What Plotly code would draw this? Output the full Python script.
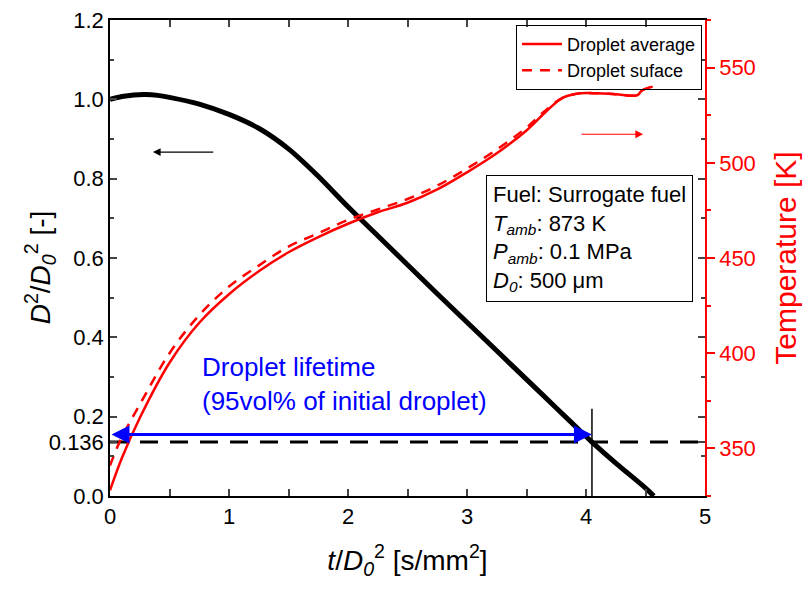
import plotly.graph_objects as go

# Normalised squared diameter D^2/D0^2 against normalised time t/D0^2
t_d = [0.0, 0.1, 0.2, 0.3, 0.4, 0.5, 0.75, 1.0, 1.25, 1.5, 1.75, 2.0, 2.25, 2.5,
       2.75, 3.0, 3.25, 3.5, 3.75, 4.0, 4.05, 4.25, 4.5, 4.57]
d2 = [1.000, 1.007, 1.011, 1.012, 1.010, 1.005, 0.988, 0.962, 0.927, 0.875, 0.806, 0.729,
      0.656, 0.583, 0.510, 0.438, 0.366, 0.294, 0.222, 0.150, 0.136, 0.083, 0.020, 0.0]

# Droplet average temperature [K]
t_avg = [0.0, 0.1, 0.25, 0.5, 0.75, 1.0, 1.25, 1.5, 1.75, 2.0, 2.25, 2.5, 2.75, 3.0,
         3.25, 3.5, 3.65, 3.8, 3.95, 4.1, 4.25, 4.43, 4.47, 4.56]
T_avg = [328, 345, 366, 395, 416, 431, 443, 453, 461, 468, 474, 479, 486, 495,
         505, 517, 526, 534, 536.5, 536.5, 536, 535.5, 538, 540]

# Droplet surface temperature [K]
t_srf = [0.0, 0.05, 0.1, 0.25, 0.5, 0.75, 1.0, 1.25, 1.5, 1.75, 2.0, 2.25, 2.5, 2.75, 3.0,
         3.25, 3.5, 3.65, 3.8, 3.95, 4.1, 4.25, 4.43, 4.47, 4.56]
T_srf = [341, 349, 356, 373, 400, 420, 435, 446, 456, 463, 470, 475.5, 481, 488, 497,
         507, 518.5, 527, 534, 536.5, 536.5, 536, 535.5, 538, 540]

# Lifetime definition: 95 vol% evaporated
life_level = 0.136
life_time = 4.05
arrow_level = 0.155
marker_top = 0.22

y_ticks = [0.0, 0.136, 0.2, 0.4, 0.6, 0.8, 1.0, 1.2]
y_ticktext = ["0.0", "0.136", "0.2", "0.4", "0.6", "0.8", "1.0", "1.2"]
y_minor = [0.1, 0.3, 0.5, 0.7, 0.9, 1.1]
x_ticks = [0, 1, 2, 3, 4, 5]
T_ticks = [350, 400, 450, 500, 550]

FONT = "Liberation Sans"
RED = "#ff0000"
BLUE = "#0000ff"

fig = go.Figure()

fig.add_trace(go.Scatter(x=[0, 5], y=[life_level, life_level], mode="lines",
                         line=dict(color="black", width=3, dash="18px,12px"),
                         showlegend=False, hoverinfo="skip"))
fig.add_trace(go.Scatter(x=[life_time, life_time], y=[0, marker_top], mode="lines",
                         line=dict(color="black", width=1.5),
                         showlegend=False, hoverinfo="skip"))
fig.add_trace(go.Scatter(x=t_d, y=d2, mode="lines",
                         line=dict(color="black", width=5, shape="spline", smoothing=0.8),
                         showlegend=False))
fig.add_trace(go.Scatter(x=t_avg, y=T_avg, mode="lines", yaxis="y2", name="Droplet average",
                         line=dict(color=RED, width=2.5, shape="spline", smoothing=1.0)))
fig.add_trace(go.Scatter(x=t_srf, y=T_srf, mode="lines", yaxis="y2", name="Droplet suface",
                         line=dict(color=RED, width=2.5, dash="10px,8px", shape="spline", smoothing=1.0)))

# Droplet lifetime double arrow
fig.add_annotation(x=life_time, y=arrow_level, ax=0, ay=arrow_level, xref="x", yref="y",
                   axref="x", ayref="y", showarrow=True, arrowhead=2, arrowside="end+start",
                   arrowsize=1.2, arrowwidth=3, arrowcolor=BLUE, text="")
fig.add_annotation(x=0.76, y=0.282, xref="x", yref="y", xanchor="left", yanchor="middle",
                   showarrow=False, text="Droplet lifetime<br>(95vol% of initial droplet)",
                   font=dict(family=FONT, size=26, color=BLUE), align="left")

# Direction arrows pointing to each axis
fig.add_annotation(x=0.36, y=0.867, ax=0.88, ay=0.867, xref="x", yref="y", axref="x", ayref="y",
                   showarrow=True, arrowhead=2, arrowsize=1.3, arrowwidth=1.2, arrowcolor="black", text="")
fig.add_annotation(x=4.48, y=515, ax=3.95, ay=515, xref="x", yref="y2", axref="x", ayref="y2",
                   showarrow=True, arrowhead=2, arrowsize=1.3, arrowwidth=1.2, arrowcolor=RED, text="")

# Experimental conditions box
fig.add_annotation(x=0.98, y=0.674, xref="paper", yref="paper", xanchor="right", yanchor="top",
                   showarrow=False, align="left", bordercolor="black", borderwidth=1, borderpad=6,
                   bgcolor="white",
                   text="Fuel: Surrogate fuel<br><i>T</i><sub><i>amb</i></sub>: 873 K<br>"
                        "<i>P</i><sub><i>amb</i></sub>: 0.1 MPa<br><i>D</i><sub><i>0</i></sub>: 500 μm",
                   font=dict(family=FONT, size=22, color="black"))

# Left axis title, placed at a fixed distance from the axis line
fig.add_annotation(x=-0.118, y=0.48, xref="paper", yref="paper", xanchor="center", yanchor="middle",
                   showarrow=False, textangle=-90,
                   text="<i>D</i><sup>2</sup>/<i>D</i><sub><i>0</i></sub><sup>2</sup> [-]",
                   font=dict(family=FONT, size=28, color="black"))

fig.update_layout(
    width=804, height=596,
    margin=dict(l=110, r=99, t=20, b=100),
    paper_bgcolor="white", plot_bgcolor="white",
    font=dict(family=FONT, size=22, color="black"),
    legend=dict(x=0.995, y=0.99, xanchor="right", yanchor="top", bordercolor="black", borderwidth=1,
                bgcolor="rgba(255,255,255,0)", font=dict(family=FONT, size=18), tracegroupgap=0,
                itemwidth=40),
    xaxis=dict(range=[0, 5], tickvals=x_ticks, ticks="inside", ticklen=7, tickwidth=1.5,
               showline=True, linecolor="black", linewidth=1.5, mirror="allticks", showgrid=False,
               zeroline=False, tickfont=dict(size=22), automargin=False,
               minor=dict(dtick=0.5, ticks="inside", ticklen=4, tickwidth=1.5, showgrid=False),
               title=dict(text="<i>t</i>/<i>D</i><sub><i>0</i></sub><sup>2</sup> [s/mm<sup>2</sup>]",
                          font=dict(size=28), standoff=22)),
    yaxis=dict(range=[0, 1.2], tickvals=y_ticks, ticktext=y_ticktext, ticks="inside", ticklen=7,
               tickwidth=1.5, showline=True, linecolor="black", linewidth=1.5, mirror="allticks",
               showgrid=False, zeroline=False, tickfont=dict(size=22), automargin=False,
               minor=dict(tickvals=y_minor, ticks="inside", ticklen=4, tickwidth=1.5, showgrid=False)),
    yaxis2=dict(range=[325, 575], overlaying="y", side="right", tickvals=T_ticks, ticks="outside",
                ticklen=8, tickwidth=1.5, tickcolor=RED, showline=True, linecolor=RED, linewidth=1.5,
                showgrid=False, zeroline=False, tickfont=dict(size=22, color=RED), automargin=False,
                minor=dict(dtick=25, tick0=325, ticks="outside", ticklen=4, tickwidth=1.5,
                           tickcolor=RED, showgrid=False),
                title=dict(text="Temperature [K]", font=dict(size=30, color=RED), standoff=20)),
)

fig.write_html("out.html")
